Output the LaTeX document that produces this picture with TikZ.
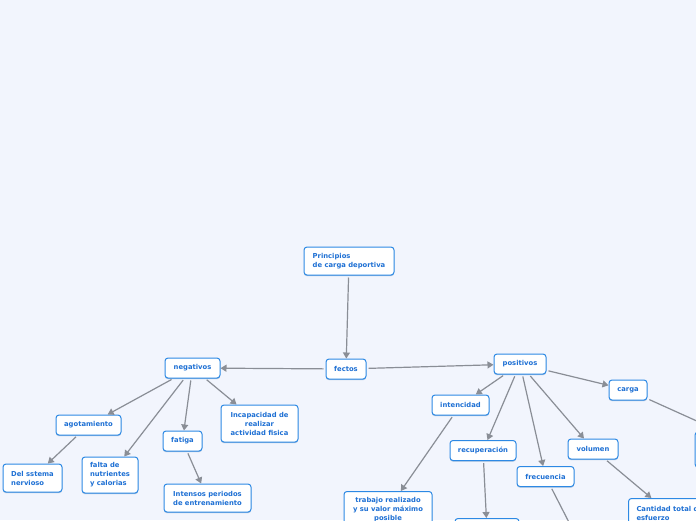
\documentclass[tikz,border=0pt]{standalone}
\usepackage{fontspec}
\setmainfont{DejaVu Sans}
\usepackage{xcolor}
\usepackage{tikz}
\usetikzlibrary{arrows.meta, shadows}

\definecolor{mapbg}{RGB}{242,245,253}
\definecolor{mapblue}{RGB}{45,137,228}
\definecolor{maptext}{RGB}{30,112,212}
\definecolor{mapline}{RGB}{138,142,150}

\begin{document}
\begin{tikzpicture}[
  x=1pt, y=-1pt,
  topic/.style={rectangle, rounded corners=3pt, draw=mapblue, line width=1pt, fill=white,
    text=maptext, font=\fontsize{6.8}{9}\selectfont\bfseries, align=center,
    inner xsep=4pt, inner ysep=3pt, minimum height=20pt,
    drop shadow={shadow xshift=0pt, shadow yshift=-1.2pt, opacity=0.35, fill=mapblue!70!black}},
  arrow/.style={-{Triangle[length=6pt, width=7pt]}, draw=mapline, line width=1.2pt, shorten <=2pt}
]
\fill[mapbg] (0,0) rectangle (696,520);
\useasboundingbox (0,0) rectangle (696,520);
\clip (0,0) rectangle (696,520);

% centro
\node[topic, align=left, minimum width=90pt, minimum height=28pt] (principios) at (349,261) {Principios\\de carga deportiva};
\node[topic, minimum width=40pt] (fectos) at (346,369) {fectos};

% lado negativo
\node[topic, minimum width=55pt] (negativos) at (192.5,368) {negativos};
\node[topic, minimum width=65pt] (agotamiento) at (88.5,425) {agotamiento};
\node[topic, align=left, minimum width=59pt, minimum height=28pt] (sistema) at (32.5,478) {Del sstema\\nervioso};
\node[topic, align=left, minimum width=56pt, minimum height=36pt] (falta) at (110,475) {falta de\\nutrientes\\y calorias};
\node[topic, minimum width=39pt] (fatiga) at (182.5,441) {fatiga};
\node[topic, minimum width=77pt, minimum height=37pt] (incapacidad) at (259.5,423.5) {Incapacidad de\\realizar\\actividad fisica};
\node[topic, align=left, minimum width=87pt, minimum height=28pt] (intensos) at (207.5,498) {Intensos periodos\\de entrenamiento};

% lado positivo
\node[topic, minimum width=52pt] (positivos) at (520,364) {positivos};
\node[topic, minimum width=38pt] (carga) at (628,390) {carga};
\node[topic, minimum width=130pt, minimum height=35pt] (cargahijo) at (760,449.5) {};
\node[topic, minimum width=57pt] (intencidad) at (460.5,405) {intencidad};
\node[topic, minimum width=66pt] (recuperacion) at (483,450.5) {recuperación};
\node[topic, minimum width=57pt] (frecuencia) at (545.5,476.5) {frecuencia};
\node[topic, minimum width=50pt] (volumen) at (593,449) {volumen};
\node[topic, align=left, anchor=north west, inner xsep=8pt, minimum height=30pt] (cantidad) at (628,498) {Cantidad total de\\esfuerzo};
\node[topic, anchor=north, minimum width=88pt, minimum height=36pt] (trabajo) at (388,491) {trabajo realizado\\y su valor máximo\\posible};
\node[topic, anchor=north, minimum width=64pt, minimum height=24pt] (recuphijo) at (487,518) {};
\coordinate (frechijo) at (576,536);

% conexiones
\draw[arrow] (principios) -- (fectos);
\draw[arrow] (fectos) -- (negativos);
\draw[arrow] (fectos) -- (positivos);

\draw[arrow] (negativos) -- (agotamiento);
\draw[arrow] (negativos) -- (falta);
\draw[arrow] (negativos) -- (fatiga);
\draw[arrow] (negativos) -- (incapacidad);
\draw[arrow] (agotamiento) -- (sistema);
\draw[arrow] (fatiga) -- (intensos);

\draw[arrow] (positivos) -- (intencidad);
\draw[arrow] (positivos) -- (recuperacion);
\draw[arrow] (positivos) -- (frecuencia);
\draw[arrow] (positivos) -- (volumen);
\draw[arrow] (positivos) -- (carga);
\draw[arrow] (carga) -- (cargahijo);
\draw[arrow] (intencidad) -- (trabajo);
\draw[arrow] (recuperacion) -- (recuphijo);
\draw[arrow] (volumen) -- (cantidad);
\draw[arrow] (frecuencia) -- (frechijo);
\end{tikzpicture}
\end{document}
